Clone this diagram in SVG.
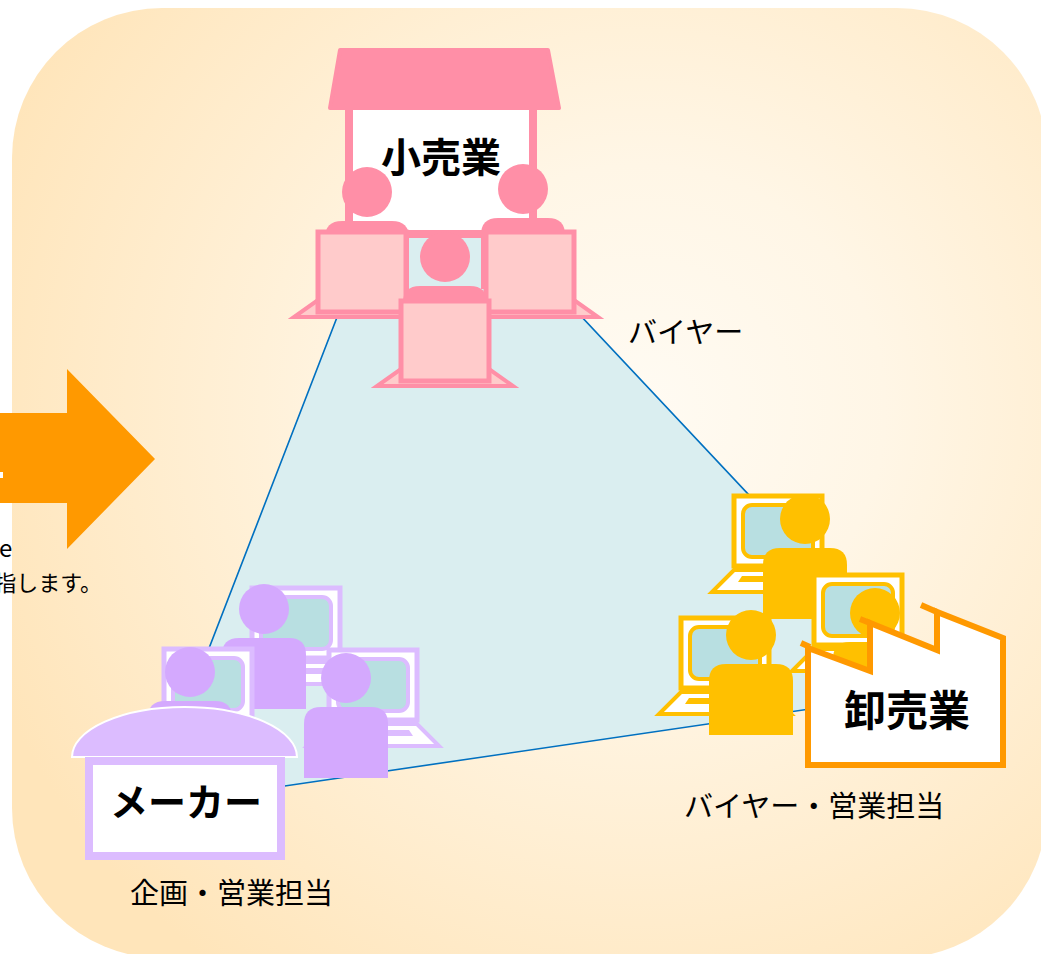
<svg xmlns="http://www.w3.org/2000/svg" xmlns:xlink="http://www.w3.org/1999/xlink" width="1041" height="954" viewBox="0 0 1041 954">
  <style>
    .lbl { font-family: "Noto Sans CJK JP", "Noto Sans", sans-serif; font-size: 29px; fill: #000; }
    .title { font-family: "Noto Sans CJK JP", "Noto Sans", sans-serif; font-size: 40px; font-weight: bold; fill: #000; text-anchor: middle; }
    .note { font-family: "Noto Sans CJK JP", "Liberation Sans", sans-serif; font-size: 22px; fill: #000; }
    .pink { color: #ff8fa7; }
    .yellow { color: #ffc000; }
    .lav { color: #dcbcff; }
    .violet { color: #d4a9fe; }
  </style>
  <defs>
    <radialGradient id="panelFill" gradientUnits="userSpaceOnUse" cx="640" cy="410" r="700">
      <stop offset="0" stop-color="#fffbf3"/>
      <stop offset="0.35" stop-color="#fff6e6"/>
      <stop offset="1" stop-color="#ffe5ba"/>
    </radialGradient>
    <!-- person seen from behind: head + rounded shoulders -->
    <g id="person">
      <path d="M-42,100 V46 Q-42,29 -25,29 H25 Q42,29 42,46 V100 Z" fill="currentColor"/>
      <circle cx="0" cy="0" r="25" fill="currentColor"/>
    </g>
    <!-- laptop with screen facing the viewer -->
    <g id="laptop">
      <polygon points="0,74 88,74 110,96 -22,96" fill="#fff" stroke="currentColor" stroke-width="4"/>
      <polygon points="8,80 80,80 84,86 4,86" fill="currentColor"/>
      <rect x="0" y="0" width="88" height="70" fill="#fff" stroke="currentColor" stroke-width="5"/>
      <rect x="9" y="9" width="70" height="52" rx="9" fill="#b8dfe1" stroke="currentColor" stroke-width="4"/>
    </g>
    <!-- laptop seen from the back of the lid -->
    <g id="lidback">
      <polygon points="-24,85 112,85 88,68 0,68" fill="#ffcbcb" stroke="currentColor" stroke-width="4"/>
      <rect x="0" y="0" width="88" height="80" fill="#ffcbcb" stroke="currentColor" stroke-width="5"/>
    </g>
  </defs>

  <rect x="0" y="0" width="1041" height="954" fill="#fff"/>
  <rect id="panel" x="12" y="8" width="1035" height="950" rx="150" ry="150" fill="url(#panelFill)"/>

  <!-- arrow entering from the left -->
  <g id="arrow">
    <polygon points="-5,413 67,413 67,369 155,459 67,549 67,503 -5,503" fill="#ff9900"/>
    <rect x="0" y="472" width="3" height="6" fill="#fff"/>
  </g>
  <text class="note" x="-1" y="557" style="font-size:24px">e</text>
  <text class="note" x="102" y="591" text-anchor="end">指します。</text>

  <!-- relationship triangle -->
  <g id="connectors">
    <polygon points="370,232 502,232 933,691 148,806" fill="#daeef0" stroke="#0070c0" stroke-width="1.6"/>
  </g>

  <!-- retail -->
  <g id="retail" class="pink">
    <rect x="349" y="106" width="184" height="128" fill="#fff" stroke="currentColor" stroke-width="8"/>
    <polygon points="340,50 548,50 559,108 330,108" fill="currentColor" stroke="currentColor" stroke-width="4" stroke-linejoin="round"/>
    <text class="title" x="441" y="172">小売業</text>
    <use xlink:href="#person" transform="translate(367,192)"/>
    <use xlink:href="#person" transform="translate(523,189)"/>
    <use xlink:href="#lidback" transform="translate(318,232)"/>
    <use xlink:href="#lidback" transform="translate(486,232)"/>
    <use xlink:href="#person" transform="translate(445,257)"/>
    <use xlink:href="#lidback" transform="translate(401,301)"/>
  </g>

  <!-- wholesale -->
  <g id="wholesale" class="yellow">
    <use xlink:href="#laptop" transform="translate(734,496)"/>
    <use xlink:href="#person" transform="translate(805,519)"/>
    <use xlink:href="#laptop" transform="translate(814,575)"/>
    <use xlink:href="#person" transform="translate(875,613)"/>
    <use xlink:href="#laptop" transform="translate(681,618)"/>
    <use xlink:href="#person" transform="translate(751,635)"/>
    <g fill="none" stroke="#ff9900" stroke-width="6">
      <polygon points="808,648 870,671 870,623 937,650 937,612 1003,638 1003,765 808,765" fill="#fff"/>
      <line x1="801" y1="643" x2="810" y2="647"/>
      <line x1="860" y1="619" x2="870" y2="623"/>
      <line x1="921" y1="605" x2="937" y2="612"/>
    </g>
    <text class="title" x="907" y="726" style="font-size:42px">卸売業</text>
  </g>

  <!-- manufacturer -->
  <g id="maker">
    <use xlink:href="#laptop" class="lav" transform="translate(252,588)"/>
    <use xlink:href="#person" class="violet" transform="translate(264,609)"/>
    <use xlink:href="#laptop" class="lav" transform="translate(164,649)"/>
    <use xlink:href="#person" class="violet" transform="translate(190,672)"/>
    <use xlink:href="#laptop" class="lav" transform="translate(329,650)"/>
    <use xlink:href="#person" class="violet" transform="translate(346,678)"/>
    <path d="M72,757 A112.5,50 0 0 1 297,757 Z" fill="#dcbcff" stroke="#fff" stroke-width="2"/>
    <rect x="89" y="761" width="192" height="95" fill="#fff" stroke="#dcbcff" stroke-width="8"/>
    <text class="title" x="186" y="816" style="font-size:38px">メーカー</text>
  </g>

  <!-- role labels -->
  <text class="lbl" x="628" y="343">バイヤー</text>
  <text class="lbl" x="684" y="817">バイヤー・営業担当</text>
  <text class="lbl" x="130" y="904">企画・営業担当</text>
</svg>
